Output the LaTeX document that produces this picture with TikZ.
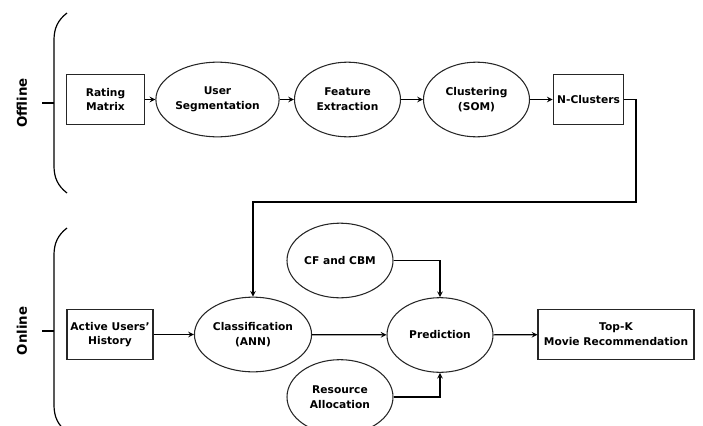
\documentclass[tikz,border=0pt]{standalone}
\usepackage{fontspec}
\setmainfont{DejaVu Sans}
\usetikzlibrary{shapes.geometric}
\tikzstyle{datum}=[rectangle,draw=black!85,line width=0.8pt,minimum height=37pt,align=center,inner sep=2pt,font=\bfseries\fontsize{8}{11}\selectfont]
\tikzstyle{proc}=[ellipse,draw=black!85,line width=0.8pt,minimum width=79.5pt,minimum height=56pt,align=center,inner sep=1pt,font=\bfseries\fontsize{8}{11}\selectfont]
\tikzstyle{phase}=[rotate=90,font=\bfseries\fontsize{10}{12}\selectfont]
\begin{document}
\begin{tikzpicture}[x=0.75pt,y=-0.75pt,>=stealth,line width=0.9pt]
\useasboundingbox (0,0) rectangle (703,425);
\clip (0,0) rectangle (703,425);
% offline part
\draw (67,13) .. controls (58,20) and (54,28) .. (54,40) -- (54,166) .. controls (54,178) and (58,186) .. (67,193);
\coordinate (offtick) at (42,103);
\draw (offtick) -- (54,103);
\node[phase] at (22,103) (off) {Offline};
\node[datum, minimum width=58pt] at (105.5,99.5) (rm) {Rating\\Matrix};
\node[proc] at (217.5,99.5) (useg) {User\\Segmentation};
\node[proc] at (347.5,99.5) (feat) {Feature\\Extraction};
\node[proc] at (476.5,99.5) (som) {Clustering\\(SOM)};
\node[datum, minimum width=53pt] at (588.5,99.5) (ncl) {N-Clusters};
\draw[->] (rm) -- (useg);
\draw[->] (useg) -- (feat);
\draw[->] (feat) -- (som);
\draw[->] (som) -- (ncl);
% online part
\draw (67,228) .. controls (58,235) and (54,243) .. (54,255) -- (54,405) .. controls (54,417) and (58,425) .. (67,432);
\coordinate (ontick) at (42,331);
\draw (ontick) -- (54,331);
\node[phase] at (22,331) (on) {Online};
\node[datum, minimum width=64.5pt] at (110,334.5) (hist) {Active Users'\\History};
\node[proc] at (253,334.5) (cls) {Classification\\(ANN)};
\node[proc] at (340,260.5) (cf) {CF and CBM};
\node[proc] at (440,335) (pred) {Prediction};
\node[proc] at (340,397) (res) {Resource\\Allocation};
\node[datum, minimum width=117pt] at (616,334.5) (topk) {Top-K\\Movie Recommendation};
\coordinate (bend) at (636,202);
\draw[->] (ncl.east) -| (bend) -| (cls.north);
\draw[->] (hist) -- (cls);
\draw[->] (cls) -- (pred);
\draw[->] (cf.east) -| (pred.north);
\draw[->] (res.east) -| (pred.south);
\draw[->] (pred) -- (topk);
\end{tikzpicture}
\end{document}
